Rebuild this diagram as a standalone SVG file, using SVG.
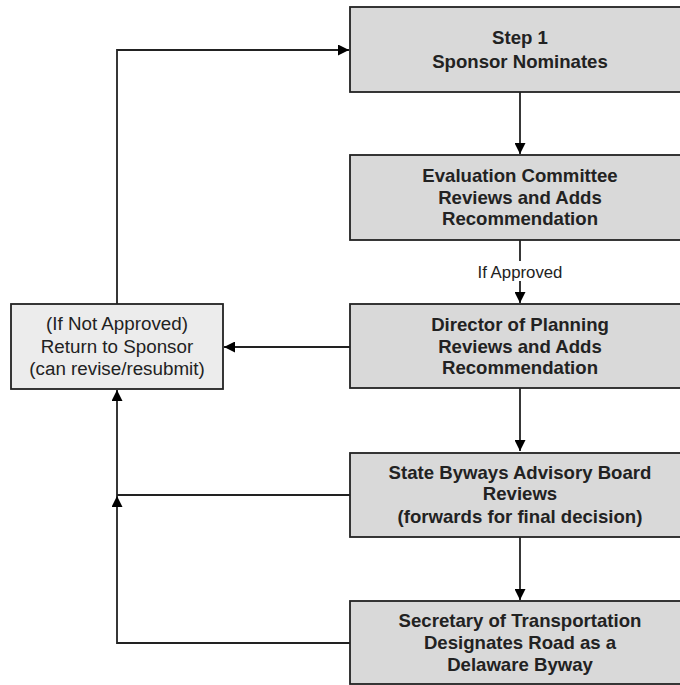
<svg xmlns="http://www.w3.org/2000/svg" width="680" height="685" viewBox="0 0 680 685">
<style>
.box{fill:#d9d9d9;stroke:#222;stroke-width:1.8}
.lbox{fill:#ececec;stroke:#222;stroke-width:1.8}
.b{font-family:"Liberation Sans",Arial,sans-serif;font-size:18.6px;font-weight:bold;fill:#222;text-anchor:middle}
.n{font-family:"Liberation Sans",Arial,sans-serif;font-size:18.8px;fill:#222;text-anchor:middle}
.c{fill:none;stroke:#222;stroke-width:1.8}
</style>
<defs>
<marker id="ah" markerWidth="11" markerHeight="11" viewBox="0 0 10 10" refX="10" refY="5" orient="auto" markerUnits="userSpaceOnUse">
<path d="M0,0 L10,5 L0,10 Z" fill="#000"/>
</marker>
</defs>
<rect width="680" height="685" fill="#fff"/>
<g id="connectors">
<path class="c" d="M117,304 V50 H349" marker-end="url(#ah)"/>
<path class="c" d="M520,92 V154" marker-end="url(#ah)"/>
<path class="c" d="M520,240 V261"/>
<path class="c" d="M520,281 V303" marker-end="url(#ah)"/>
<path class="c" d="M350,347 H224" marker-end="url(#ah)"/>
<path class="c" d="M520,388 V451" marker-end="url(#ah)"/>
<path class="c" d="M350,495 H117 V390" marker-end="url(#ah)"/>
<path class="c" d="M350,643 H117 V496" marker-end="url(#ah)"/>
<path class="c" d="M520,537 V600" marker-end="url(#ah)"/>
<text class="n" x="520" y="278" style="font-size:16.8px">If Approved</text>
</g>
<g id="step1">
<rect class="box" x="350" y="7" width="340" height="85"/>
<text class="b" x="520" y="44">Step 1</text>
<text class="b" x="520" y="68">Sponsor Nominates</text>
</g>
<g id="evaluation">
<rect class="box" x="350" y="155" width="340" height="85"/>
<text class="b" x="520" y="182">Evaluation Committee</text>
<text class="b" x="520" y="204">Reviews and Adds</text>
<text class="b" x="520" y="225">Recommendation</text>
</g>
<g id="director">
<rect class="box" x="350" y="304" width="340" height="84"/>
<text class="b" x="520" y="331">Director of Planning</text>
<text class="b" x="520" y="353">Reviews and Adds</text>
<text class="b" x="520" y="374">Recommendation</text>
</g>
<g id="return">
<rect class="lbox" x="11" y="304" width="212" height="85"/>
<text class="n" x="117" y="330">(If Not Approved)</text>
<text class="n" x="117" y="353">Return to Sponsor</text>
<text class="n" x="117" y="375">(can revise/resubmit)</text>
</g>
<g id="stateboard">
<rect class="box" x="350" y="453" width="340" height="84"/>
<text class="b" x="520" y="479">State Byways Advisory Board</text>
<text class="b" x="520" y="500">Reviews</text>
<text class="b" x="520" y="523">(forwards for final decision)</text>
</g>
<g id="secretary">
<rect class="box" x="350" y="601" width="340" height="83"/>
<text class="b" x="520" y="627">Secretary of Transportation</text>
<text class="b" x="520" y="649">Designates Road as a</text>
<text class="b" x="520" y="671">Delaware Byway</text>
</g>
</svg>
